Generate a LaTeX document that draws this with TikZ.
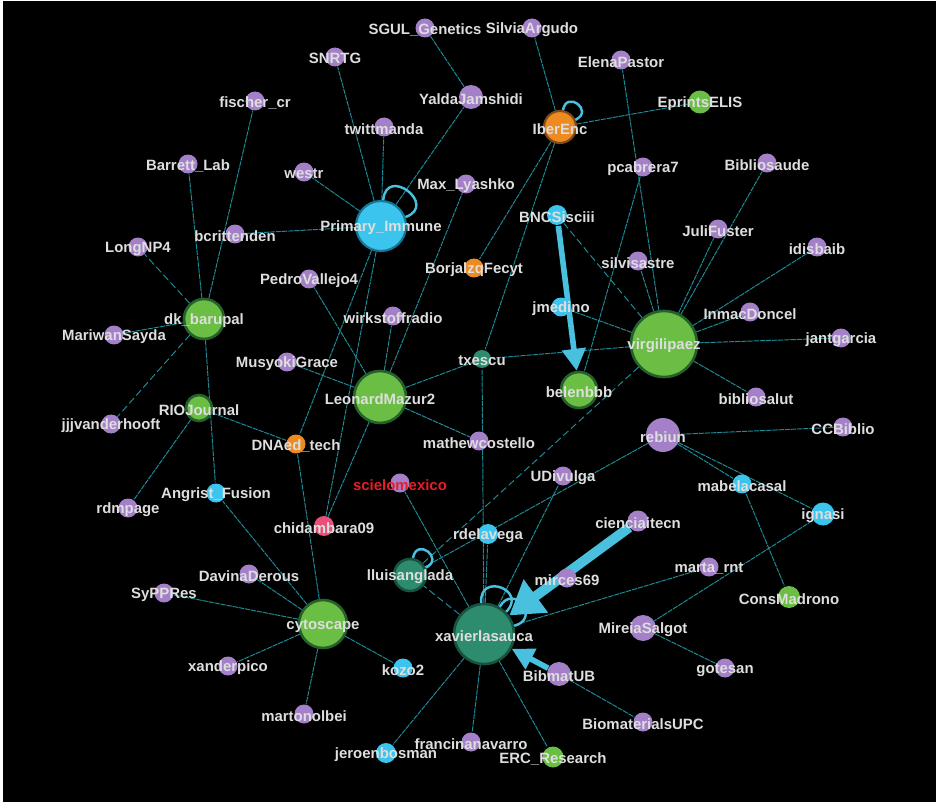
\documentclass[tikz,border=0pt]{standalone}
\usepackage{fontspec}
\setmainfont{Liberation Sans}
\usepackage{xcolor}
\usepackage{tikz}
\usetikzlibrary{arrows.meta,backgrounds}
\definecolor{upurple}{RGB}{163,128,200}
\definecolor{ucyan}{RGB}{58,196,238}
\definecolor{ucyanedge}{RGB}{22,120,150}
\definecolor{ugreen}{RGB}{106,190,68}
\definecolor{ugreenedge}{RGB}{38,96,44}
\definecolor{uorange}{RGB}{238,138,34}
\definecolor{uorangeedge}{RGB}{130,74,24}
\definecolor{uteal}{RGB}{46,140,110}
\definecolor{utealedge}{RGB}{24,82,64}
\definecolor{upink}{RGB}{232,80,120}
\definecolor{linkteal}{RGB}{28,140,152}
\definecolor{arrcyan}{RGB}{72,192,222}
\definecolor{labelgray}{RGB}{222,222,222}
\definecolor{labelred}{RGB}{230,30,40}

\begin{document}
\begin{tikzpicture}[
  x=0.02cm, y=-0.02cm,
  lbl/.style={font=\fontsize{8.5}{10}\selectfont\bfseries, text=labelgray, inner sep=0, yshift=-1pt},
  nm/.style={label={[lbl]center:#1}},
  pnode/.style={circle, fill=upurple, inner sep=0, minimum size=#1},
  pnode/.default=0.38cm,
  bnode/.style={circle, fill=ucyan, draw=ucyanedge, line width=1.2pt, inner sep=0, minimum size=#1},
  gnode/.style={circle, fill=ugreen, draw=ugreenedge, line width=1.5pt, inner sep=0, minimum size=#1},
  onode/.style={circle, fill=uorange, draw=uorangeedge, line width=1.2pt, inner sep=0, minimum size=#1},
  tnode/.style={circle, fill=uteal, draw=utealedge, line width=1.5pt, inner sep=0, minimum size=#1},
  knode/.style={circle, fill=upink, inner sep=0, minimum size=#1},
  lnk/.style={draw=linkteal, line width=0.55pt, dash pattern=on 3pt off 0.5pt},
  dlnk/.style={draw=linkteal, line width=0.55pt, dash pattern=on 4pt off 2pt},
  selfloop/.style={draw=arrcyan, line width=1.4pt},
  fatarr/.style={draw=arrcyan, line width=#1},
  ]
  % top
  \node[pnode, nm={SGUL\_Genetics}] (sgul) at (425,28) {};
  \node[pnode, nm=SilviaArgudo] (silvia) at (532,28) {};
  \node[pnode, nm=SNRTG] (snrtg) at (335,57) {};
  \node[pnode, nm=ElenaPastor] (elena) at (621,60) {};
  \node[pnode=0.48cm, nm=YaldaJamshidi] (yalda) at (471,97) {};
  \node[gnode=0.46cm, draw=none, nm=EprintsELIS] (eprints) at (700,102) {};
  \node[pnode, nm={fischer\_cr}] (fischer) at (255,101) {};
  \node[onode=0.64cm, nm=IberEnc] (iber) at (560,127) {};
  \node[pnode, nm=twittmanda] (twitt) at (384,127) {};
  \node[pnode, nm=pcabrera7] (pcab) at (643,167) {};
  \node[pnode, nm=Bibliosaude] (bsaude) at (767,163) {};
  \node[pnode, nm={Barrett\_Lab}] (barrett) at (188,164) {};
  \node[pnode, nm=westr] (westr) at (304,172) {};
  \node[pnode, nm={Max\_Lyashko}] (maxl) at (466,184) {};
  \node[bnode=1.0cm, nm={Primary\_Immune}] (pi) at (381,226) {};
  \node[bnode=0.4cm, draw=none, nm=BNCSisciii] (bnc) at (557,215) {};
  \node[pnode, nm=bcrittenden] (bcrit) at (235,234) {};
  \node[pnode, nm=JuliFuster] (juli) at (718,229) {};
  \node[pnode, nm=LongNP4] (longnp) at (138,247) {};
  \node[pnode, nm=idisbaib] (idis) at (817,247) {};
  \node[pnode, nm=silvisastre] (silvis) at (638,261) {};
  \node[onode=0.38cm, draw=none, nm=BorjalzqFecyt] (borja) at (474,268) {};
  % middle
  \node[pnode, nm=PedroVallejo4] (pedro) at (309,279) {};
  \node[gnode=0.8cm, nm={dk\_barupal}] (dk) at (204,319) {};
  \node[pnode, nm=wirkstoffradio] (wirk) at (393,316) {};
  \node[bnode=0.38cm, draw=none, nm=jmedino] (jmed) at (561,307) {};
  \node[pnode, nm=InmacDoncel] (inmac) at (750,312) {};
  \node[gnode=1.32cm, nm=virgilipaez] (virg) at (664,344) {};
  \node[pnode, nm=jantgarcia] (jant) at (841,338) {};
  \node[pnode, nm=MariwanSayda] (mariwan) at (114,335) {};
  \node[pnode, nm=MusyokiGrace] (musyoki) at (287,362) {};
  \node[tnode=0.36cm, draw=none, nm=txescu] (txescu) at (482,359) {};
  \node[gnode=1.04cm, nm=LeonardMazur2] (leo) at (380,397) {};
  \node[gnode=0.72cm, nm=belenbbb] (belen) at (579,390) {};
  \node[pnode, nm=bibliosalut] (bsalut) at (756,397) {};
  \node[gnode=0.52cm, nm=RIOJournal] (rio) at (199,408) {};
  \node[pnode, nm=jjjvanderhooft] (jjj) at (111,424) {};
  \node[onode=0.38cm, draw=none, nm={DNAed\_tech}] (dna) at (296,444) {};
  \node[pnode, nm=mathewcostello] (mathew) at (479,441) {};
  \node[pnode=0.68cm, nm=rebiun] (rebiun) at (663,435) {};
  \node[pnode, nm=CCBiblio] (ccb) at (843,427) {};
  \node[pnode, label={[lbl, text=labelred]center:scielomexico}] (scielo) at (400,483) {};
  \node[pnode, nm=UDivulga] (udiv) at (563,476) {};
  \node[bnode=0.38cm, draw=none, nm=mabelacasal] (mabel) at (742,484) {};
  \node[bnode=0.38cm, draw=none, nm={Angrist\_Fusion}] (angrist) at (216,493) {};
  \node[pnode, nm=rdmpage] (rdm) at (128,508) {};
  \node[knode=0.4cm, nm=chidambara09] (chid) at (324,526) {};
  \node[bnode=0.46cm, draw=none, nm=ignasi] (ignasi) at (823,514) {};
  \node[pnode=0.42cm, nm=cienciaitecn] (ciencia) at (638,521) {};
  \node[bnode=0.4cm, draw=none, nm=rdelavega] (rdela) at (488,534) {};
  % bottom
  \node[tnode=0.64cm, nm=lluisanglada] (lluis) at (410,575) {};
  \node[pnode, nm=DavinaDerous] (davina) at (249,574) {};
  \node[pnode, nm=mirces69] (mirces) at (567,578) {};
  \node[pnode, nm={marta\_rnt}] (marta) at (709,567) {};
  \node[pnode, nm=SyPPRes] (sypp) at (164,593) {};
  \node[gnode=0.44cm, draw=none, nm=ConsMadrono] (cons) at (789,597) {};
  \node[gnode=0.96cm, nm=cytoscape] (cyto) at (323,624) {};
  \node[tnode=1.2cm, nm=xavierlasauca] (xav) at (484,634) {};
  \node[pnode=0.52cm, nm=MireiaSalgot] (mireia) at (643,628) {};
  \node[bnode=0.38cm, draw=none, nm=kozo2] (kozo) at (403,668) {};
  \node[pnode, nm=xanderpico] (xander) at (228,666) {};
  \node[pnode=0.48cm, nm=BibmatUB] (bibmat) at (559,674) {};
  \node[pnode, nm=gotesan] (gotesan) at (725,668) {};
  \node[pnode, nm=martonolbei] (marton) at (304,714) {};
  \node[pnode, nm=BiomaterialsUPC] (biomat) at (643,722) {};
  \node[pnode, nm=francinanavarro] (francina) at (471,742) {};
  \node[bnode=0.4cm, draw=none, nm=jeroenbosman] (jeroen) at (386,753) {};
  \node[gnode=0.42cm, draw=none, nm={ERC\_Research}] (erc) at (553,757) {};

  \begin{scope}[on background layer]
    \fill[white] (0,0) rectangle (940,804);
    \fill[black] (3,1) rectangle (936,802);
    % links
    \draw[lnk] (pi) -- (snrtg) (pi) -- (twitt) (pi) -- (westr) (pi) -- (yalda)
      (pi) -- (bcrit) (pi) -- (dna) (pi) -- (chid) (yalda) -- (sgul);
    \draw[lnk] (iber) -- (silvia) (iber) -- (eprints) (iber) -- (borja) (iber) -- (txescu);
    \draw[lnk] (dk) -- (barrett) (dk) -- (fischer) (dk) -- (mariwan) (dk) -- (angrist);
    \draw[dlnk] (dk) -- (longnp) (dk) -- (jjj);
    \draw[lnk] (rio) -- (dna) (rio) -- (rdm);
    \draw[lnk] (leo) -- (pedro) (leo) -- (wirk) (leo) -- (musyoki) (leo) -- (maxl)
      (leo) -- (txescu) (leo) -- (mathew) (leo) -- (chid);
    \draw[lnk] (virg) -- (elena) (virg) -- (silvis) (virg) -- (bsaude) (virg) -- (juli)
      (virg) -- (idis) (virg) -- (inmac) (virg) -- (jant) (virg) -- (bsalut)
      (virg) -- (jmed) (virg) -- (txescu);
    \draw[dlnk] (virg) -- (bnc) (virg) -- (lluis);
    \draw[lnk] (pcab) -- (belen);
    \draw[lnk] (rebiun) -- (ccb) (rebiun) -- (mabel) (rebiun) -- (ignasi) (rebiun) -- (lluis)
      (mabel) -- (cons) (ignasi) -- (mireia) (mireia) -- (gotesan);
    \draw[lnk] (cyto) -- (davina) (cyto) -- (sypp) (cyto) -- (xander) (cyto) -- (kozo)
      (cyto) -- (marton) (cyto) -- (angrist) (cyto) -- (dna);
    \draw[lnk] (xav) -- (txescu) (xav) -- (rdela) (xav) -- (scielo) (xav) -- (udiv)
      (xav) -- (marta) (xav) -- (francina) (xav) -- (jeroen) (xav) -- (erc)
      (bibmat) -- (biomat);
    \draw[dlnk] (xav) -- (lluis);
    % heavy links
    \draw[fatarr=3.2pt, -{Triangle[width=0.46cm, length=0.44cm]}] (bnc) -- (belen);
    \draw[fatarr=5.6pt, -{Triangle[width=0.78cm, length=0.66cm]}] (ciencia) -- (xav);
    \draw[fatarr=3.2pt, -{Triangle[width=0.44cm, length=0.44cm]}] (bibmat) -- (xav);
  \end{scope}

  % self loops
  \draw[selfloop] (pi) to[out=85, in=20, looseness=3.2] (pi);
  \draw[selfloop] (iber) to[out=80, in=25, looseness=3.4] (iber);
  \draw[selfloop] (lluis) to[out=80, in=25, looseness=3.4] (lluis);
  \draw[selfloop] (xav) to[out=95, in=45, looseness=3] (xav);
  \draw[selfloop] (xav) to[out=60, in=15, looseness=3] (xav);
\end{tikzpicture}
\end{document}
